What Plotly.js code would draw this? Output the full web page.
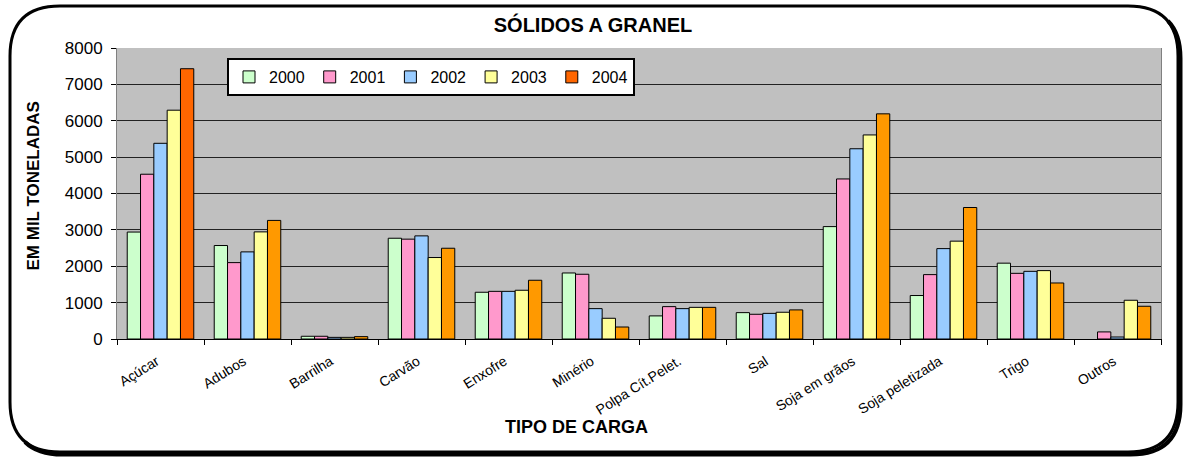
<!DOCTYPE html>
<html>
<head>
<meta charset="utf-8">
<script src="https://cdn.plot.ly/plotly-3.0.1.min.js"></script>
<style>
  html, body { margin: 0; padding: 0; background: #ffffff; }
  #chart { width: 1186px; height: 459px; }
</style>
</head>
<body>
<div id="chart"></div>
<script>
// ---- Data ----
const categories = ["Açúcar", "Adubos", "Barrilha", "Carvão", "Enxofre", "Minério",
  "Polpa Cít.Pelet.", "Sal", "Soja em grãos", "Soja peletizada", "Trigo", "Outros"];
const years = ["2000", "2001", "2002", "2003", "2004"];
const v2000 = [2940, 2570, 75, 2770, 1285, 1815, 635, 725, 3090, 1195, 2085, null];
const v2001 = [4530, 2100, 75, 2745, 1310, 1780, 890, 680, 4400, 1770, 1805, 195];
const v2002 = [5380, 2395, 45, 2835, 1310, 835, 835, 705, 5230, 2485, 1860, 55];
const v2003 = [6290, 2945, 45, 2240, 1340, 570, 870, 735, 5610, 2690, 1880, 1065];
const v2004 = [7430, 3260, 65, 2495, 1615, 330, 870, 800, 6190, 3615, 1540, 900];
const seriesValues = [v2000, v2001, v2002, v2003, v2004];
const seriesColors = ["#CCFFCC", "#FF99CC", "#99CCFF", "#FFFF99", "#FF9900"];
const highlightColor2004 = "#FF6600"; // Açúcar 2004 bar drawn in a darker orange
const yTicks = [0, 1000, 2000, 3000, 4000, 5000, 6000, 7000, 8000];

const FONT = "Arial, 'Liberation Sans', sans-serif";

const traces = years.map((yr, i) => {
  let colors = seriesColors[i];
  if (i === 4) {
    colors = categories.map((c, k) => (k === 0 ? highlightColor2004 : seriesColors[4]));
  }
  return {
    type: "bar",
    name: yr,
    x: categories,
    y: seriesValues[i],
    marker: { color: colors, line: { color: "#000000", width: 1 } },
    hoverinfo: "x+y+name"
  };
});

// ---- Layout geometry (pixels) ----
const W = 1186, H = 459;
const M = { l: 117, r: 25, t: 48, b: 120 };
const PW = W - M.l - M.r, PH = H - M.t - M.b;
const px = x => (x - M.l) / PW;
const py = y => (H - M.b - y) / PH;
const P = (x, y) => px(x) + "," + py(y);

function roundRect(x0, y0, x1, y1, r) {
  return "M" + P(x0 + r, y0) +
    " L" + P(x1 - r, y0) +
    " Q" + P(x1, y0) + " " + P(x1, y0 + r) +
    " L" + P(x1, y1 - r) +
    " Q" + P(x1, y1) + " " + P(x1 - r, y1) +
    " L" + P(x0 + r, y1) +
    " Q" + P(x0, y1) + " " + P(x0, y1 - r) +
    " L" + P(x0, y0 + r) +
    " Q" + P(x0, y0) + " " + P(x0 + r, y0) + " Z";
}
function shadowEdge(x0, y0, x1, y1, r, d) {
  // right and bottom edges, shifted by d to thicken the frame
  return "M" + P(x1 - 0.25 * r + d, y0 + 0.25 * r + d) +
    " Q" + P(x1 + d, y0 + 0.5 * r + d) + " " + P(x1 + d, y0 + r + d) +
    " L" + P(x1 + d, y1 - r + d) +
    " Q" + P(x1 + d, y1 + d) + " " + P(x1 - r + d, y1 + d) +
    " L" + P(x0 + r + d, y1 + d) +
    " Q" + P(x0 + 0.5 * r + d, y1 + d) + " " + P(x0 + 0.25 * r + d, y1 - 0.25 * r + d);
}

const layout = {
  width: W, height: H,
  margin: M,
  paper_bgcolor: "#ffffff",
  plot_bgcolor: "#C0C0C0",
  barmode: "group",
  bargap: 0.235,
  bargroupgap: 0,
  showlegend: true,
  font: { family: FONT, color: "#000000" },
  title: {
    text: "<b>SÓLIDOS A GRANEL</b>",
    font: { family: FONT, size: 20, color: "#000000" },
    xref: "container", x: 0.5, xanchor: "center",
    yref: "container", y: 1 - 25 / H, yanchor: "middle"
  },
  legend: {
    orientation: "h",
    x: px(227), xanchor: "left",
    y: py(58), yanchor: "top",
    bgcolor: "#ffffff",
    bordercolor: "#000000",
    borderwidth: 2,
    font: { family: FONT, size: 16, color: "#000000" },
    traceorder: "normal",
    itemclick: false,
    tracegroupgap: 0
  },
  xaxis: {
    type: "category",
    tickson: "boundaries",
    ticks: "outside",
    ticklen: 5,
    tickcolor: "#000000",
    tickangle: -32,
    ticklabelstandoff: 8,
    ticklabelshift: -4,
    tickfont: { family: FONT, size: 14, color: "#000000" },
    showline: true,
    linecolor: "#000000",
    linewidth: 1,
    showgrid: false,
    automargin: false,
    fixedrange: true
  },
  yaxis: {
    range: [0, 8000],
    tickvals: yTicks,
    ticktext: yTicks.map(String),
    ticks: "outside",
    ticklen: 5,
    tickcolor: "#000000",
    ticklabelstandoff: 5,
    tickfont: { family: FONT, size: 17, color: "#000000" },
    showline: true,
    linecolor: "#808080",
    linewidth: 1,
    mirror: true,
    showgrid: true,
    gridcolor: "#222222",
    gridwidth: 1.2,
    zeroline: false,
    automargin: false,
    fixedrange: true
  },
  annotations: [
    {
      text: "<b>TIPO DE CARGA</b>",
      xref: "paper", yref: "paper",
      x: px(576), y: py(427), xanchor: "center", yanchor: "middle",
      showarrow: false,
      font: { family: FONT, size: 18, color: "#000000" }
    },
    {
      text: "<b>EM MIL TONELADAS</b>",
      xref: "paper", yref: "paper",
      x: px(33), y: py(273), xanchor: "center", yanchor: "bottom",
      textangle: -90,
      showarrow: false,
      font: { family: FONT, size: 17, color: "#000000" }
    }
  ],
  shapes: [
    {
      type: "path", xref: "paper", yref: "paper", layer: "below",
      path: roundRect(10, 6, 1178, 452, 50),
      line: { color: "#000000", width: 3 }
    },
    {
      type: "path", xref: "paper", yref: "paper", layer: "below",
      path: shadowEdge(10, 6, 1178, 452, 50, 2.5),
      line: { color: "#000000", width: 4 }
    }
  ]
};

Plotly.newPlot("chart", traces, layout, { displayModeBar: false, staticPlot: true });
</script>
</body>
</html>
